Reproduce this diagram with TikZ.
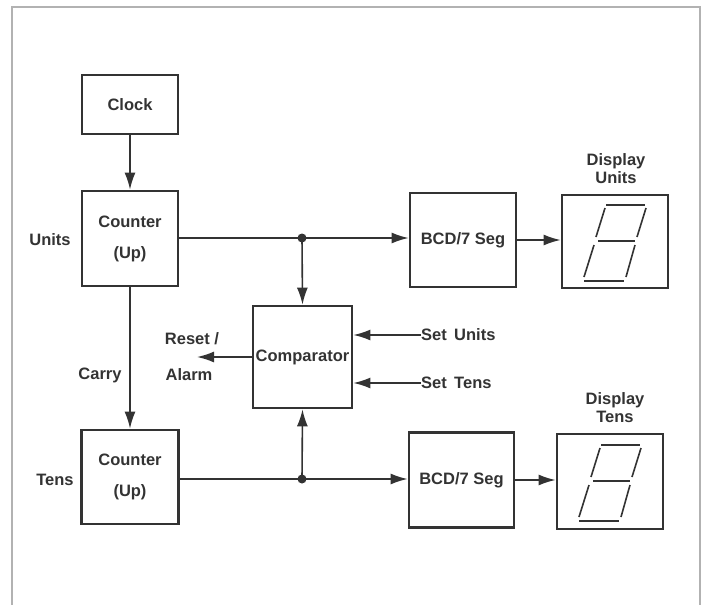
\documentclass[tikz,border=0pt]{standalone}
\usepackage{fontspec}
\setmainfont{Liberation Sans}
\usetikzlibrary{arrows.meta,calc}
\definecolor{ink}{gray}{0.2}
\definecolor{frame}{gray}{0.7}
\newcommand{\lblfont}{\fontsize{16.5}{31}\bfseries\selectfont}
\newcommand{\tightfont}{\fontsize{16.5}{18}\bfseries\selectfont}
\tikzset{
  blk/.style={draw=ink, line width=2.8pt, inner sep=0pt, align=center, text=ink, font=\lblfont},
  conn/.style={draw=ink, line width=1.6pt},
  arr/.style={conn, -{Latex[length=17pt,width=11pt]}},
  lbl/.style={text=ink, font=\tightfont, inner sep=0pt, align=center},
  seg/.style={draw=ink, line width=1.6pt},
  junc/.style={circle, fill=ink, inner sep=0pt, minimum size=9pt}
}
\newcommand{\sevenseg}[1]{%
  \begin{scope}[shift={(#1.center)}]
    \draw[seg] (-9,-36.5) -- (30,-36.5);
    \draw[seg] (-10,-33.5) -- (-19,-4.5);
    \draw[seg] (31,-33.5) -- (22,-4.5);
    \draw[seg] (-17,-0.5) -- (20,-0.5);
    \draw[seg] (-21,3.5) -- (-31,35.5);
    \draw[seg] (20,3.5) -- (11,35.5);
    \draw[seg] (-31,39.5) -- (9,39.5);
  \end{scope}}
\begin{document}
\begin{tikzpicture}[x=1pt,y=-1pt]
\useasboundingbox (0,0) rectangle (707,605);
% frame
\draw[frame, line width=1.5pt] (12,605) -- (12,7) -- (700,7) -- (700,605);
% blocks
\node[blk, minimum width=96pt, minimum height=59pt] (clock) at (130,104.5) {Clock};
\node[blk, minimum width=96pt, minimum height=95pt] (cu) at (130,238.5) {Counter\\(Up)};
\node[blk, minimum width=97pt, minimum height=94pt] (ct) at (130,477) {Counter\\(Up)};
\node[blk, minimum width=99pt, minimum height=102pt] (comp) at (302.5,357) {Comparator};
\node[blk, minimum width=106pt, minimum height=94pt] (bcdu) at (463,240) {BCD/7 Seg};
\node[blk, minimum width=106pt, minimum height=93pt] (dispu) at (615,241.5) {};
\node[blk, minimum width=105pt, minimum height=95pt] (bcdt) at (461.5,480) {BCD/7 Seg};
\node[blk, minimum width=106pt, minimum height=95pt] (dispt) at (610,481.5) {};
\sevenseg{dispu}
\sevenseg{dispt}
% junctions
\node[junc] (ju) at (302,238) {};
\node[junc] (jt) at (302,479) {};
% labels
\node[lbl] (lunits) at (50,240) {Units};
\node[lbl] (ltens) at (55,480) {Tens};
\node[lbl] (lcarry) at (100,375) {Carry};
\node[lbl] (lreset) at (192,339) {Reset /};
\node[lbl] (lalarm) at (189,375) {Alarm};
\node[lbl, anchor=west] (lsetu) at (421,335) {Set\, Units};
\node[lbl, anchor=west] (lsett) at (421,383) {Set\, Tens};
\node[lbl] (ldu) at (616,169) {Display\\Units};
\node[lbl] (ldt) at (615,407.5) {Display\\Tens};
\coordinate (resetend) at (197,357);
% connectors
\draw[arr] (clock.south) -- (cu.north);
\draw[arr] (cu.south) -- (ct.north);
\draw[conn] (cu.east |- ju) -- (ju.center);
\draw[arr] (ju.center) -- (ju -| bcdu.west);
\draw[arr] (ju.center) -- (comp.north);
\draw[conn] (ct.east |- jt) -- (jt.center);
\draw[arr] (jt.center) -- (jt -| bcdt.west);
\draw[arr] (jt.center) -- (comp.south);
\draw[arr] (comp.west |- resetend) -- (resetend);
\draw[arr] (lsetu.west) -- (lsetu.west -| comp.east);
\draw[arr] (lsett.west) -- (lsett.west -| comp.east);
\draw[arr] (bcdu.east) -- (dispu.west |- bcdu.east);
\draw[arr] (bcdt.east) -- (dispt.west |- bcdt.east);
\end{tikzpicture}
\end{document}
